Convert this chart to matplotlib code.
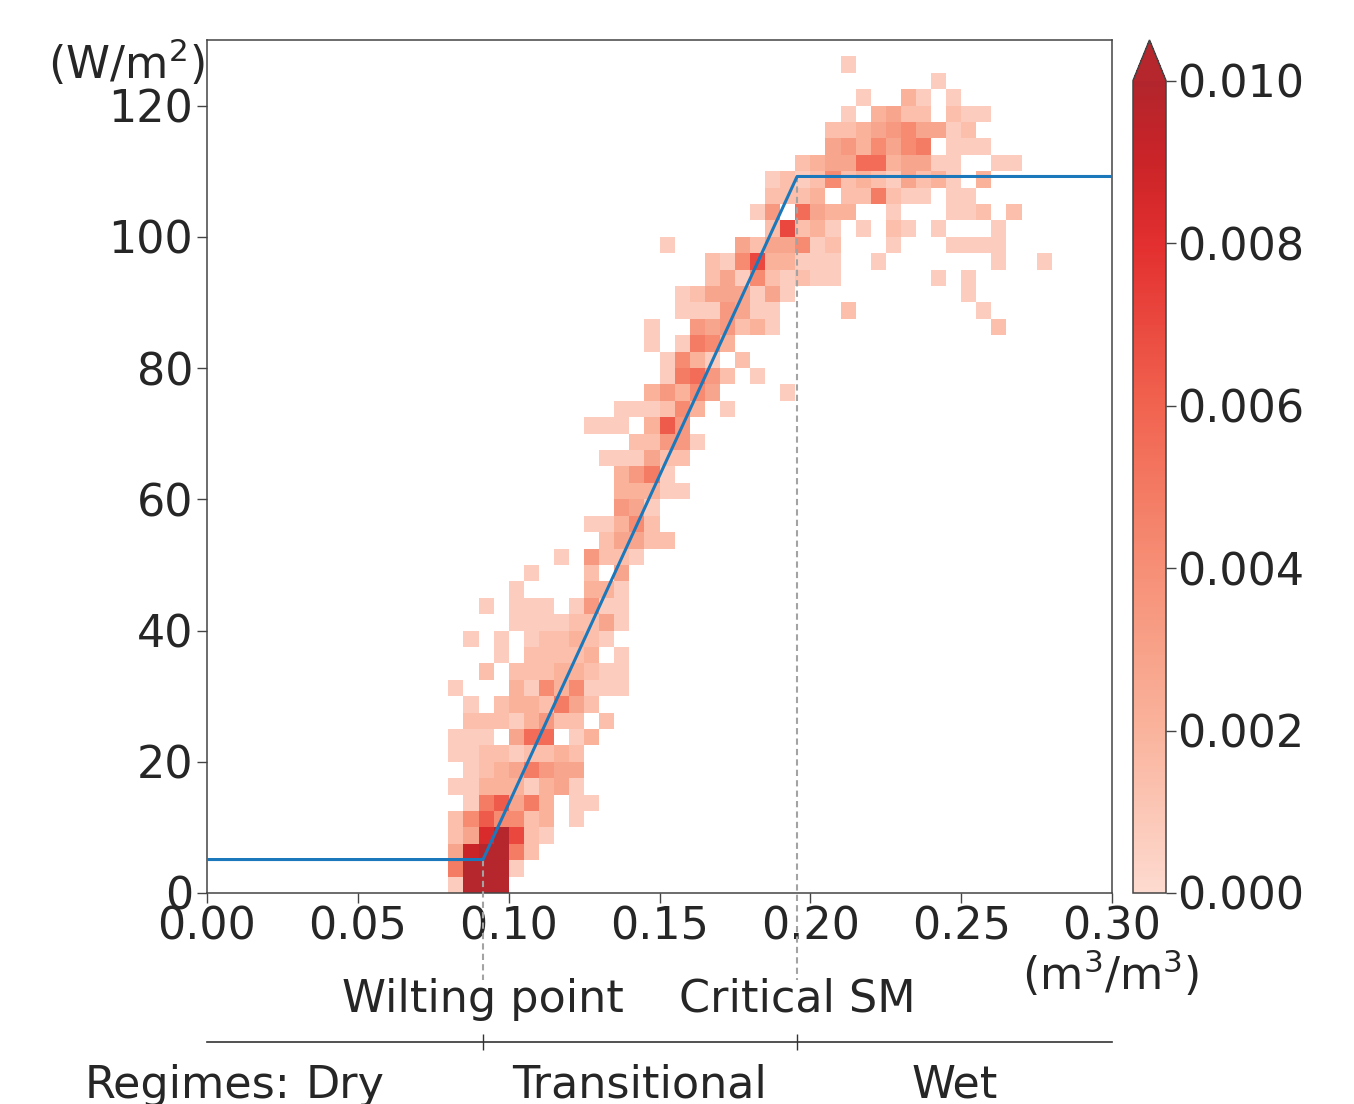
import matplotlib
matplotlib.use('Agg')
import matplotlib.pyplot as plt
import numpy as np
from matplotlib.colors import LinearSegmentedColormap, Normalize

W, H = 1354, 1104
plt.rcParams['font.family'] = 'DejaVu Sans'
plt.rcParams['text.color'] = '#262626'
plt.rcParams['mathtext.default'] = 'regular'

# histogram bins
x_edges = np.arange(0, 0.3001, 0.005)
y_edges = np.arange(0, 130.01, 2.5)
density_per_count = 0.0007

# counts read per row of bins: first column, then one count per column
row_start = [16, 16, 16, 16, 16, 17, 16, 17, 16, 16, 17, 17, 16, 18, 19, 17, 20, 18, 20, 21,
             23, 26, 25, 27, 27, 27, 26, 28, 25, 27, 29, 30, 30, 29, 29, 31, 31, 33, 33, 30,
             37, 36, 37, 37, 39, 41, 41, 42, 43, 48, 42]
row_counts = [
    [1, 22, 22, 22],
    [7, 22, 22, 22, 1],
    [4, 13, 22, 22, 7, 2],
    [2, 4, 12, 22, 10, 2, 1],
    [2, 6, 9, 6, 6, 2, 3, 0, 1],
    [1, 7, 9, 4, 7, 3, 0, 1, 1],
    [1, 1, 3, 3, 3, 1, 3, 4, 1],
    [1, 2, 3, 4, 7, 5, 4, 4],
    [1, 1, 2, 2, 1, 2, 2, 3, 2],
    [1, 1, 1, 0, 4, 8, 8, 0, 1, 3],
    [2, 2, 2, 1, 3, 5, 2, 2, 0, 2],
    [1, 0, 2, 3, 3, 2, 7, 4, 2],
    [1, 0, 0, 0, 3, 1, 6, 3, 6, 1, 1, 1],
    [2, 0, 2, 2, 2, 3, 3, 2, 1, 1],
    [1, 0, 2, 2, 2, 2, 3, 0, 1],
    [1, 0, 1, 0, 1, 2, 2, 3, 2, 1],
    [1, 1, 1, 1, 2, 2, 4, 1],
    [1, 0, 1, 1, 1, 0, 1, 5, 1, 1],
    [1, 0, 0, 0, 0, 3, 3, 1],
    [1, 0, 0, 0, 2, 0, 4],
    [1, 0, 5, 2, 2, 1],
    [2, 4, 4, 2, 2],
    [1, 1, 3, 6, 2],
    [5, 4, 1],
    [3, 3, 3, 1, 1],
    [3, 5, 7, 1],
    [1, 1, 1, 4, 2, 2],
    [2, 2, 5, 5, 1],
    [1, 1, 1, 0, 3, 9, 5],
    [1, 1, 1, 2, 6, 3, 0, 1],
    [3, 5, 3, 6, 4, 0, 0, 0, 0, 1],
    [1, 7, 8, 5, 2, 0, 1],
    [1, 6, 3, 1, 0, 2],
    [1, 0, 1, 7, 6, 3],
    [1, 0, 0, 5, 4, 5, 2, 3, 1, 0, 0, 0, 0, 0, 0, 0, 0, 0, 0, 0, 0, 0, 0, 2],
    [1, 1, 1, 5, 4, 1, 1, 0, 0, 0, 0, 2, 0, 0, 0, 0, 0, 0, 0, 0, 1],
    [1, 2, 4, 4, 4, 1, 4, 1, 0, 0, 0, 0, 0, 0, 0, 0, 0, 0, 0, 1],
    [2, 4, 1, 6, 2, 1, 2, 1, 1, 0, 0, 0, 0, 0, 0, 1, 0, 1],
    [2, 1, 6, 10, 3, 3, 1, 1, 1, 0, 0, 1, 0, 0, 0, 0, 0, 0, 0, 1, 0, 0, 1],
    [1, 0, 0, 0, 0, 4, 2, 4, 4, 6, 1, 2, 0, 0, 0, 1, 0, 0, 0, 1, 1, 1, 1],
    [2, 10, 2, 3, 1, 0, 1, 0, 2, 1, 0, 1, 0, 0, 0, 1],
    [1, 5, 0, 8, 4, 3, 3, 0, 0, 1, 0, 0, 0, 1, 1, 2, 0, 2],
    [2, 2, 2, 3, 0, 2, 2, 7, 2, 1, 1, 0, 1, 1],
    [1, 2, 1, 2, 6, 2, 3, 2, 1, 4, 2, 3, 1, 0, 3],
    [2, 3, 4, 4, 8, 8, 3, 4, 4, 1, 1, 0, 0, 1, 1],
    [4, 5, 3, 6, 4, 6, 7, 0, 1, 1, 1],
    [2, 2, 3, 4, 5, 6, 4, 4, 1, 2],
    [1, 0, 3, 4, 2, 2, 0, 2, 1, 1],
    [1, 0, 0, 3, 1, 0, 1],
    [1],
    [1],
]

# fitted regime curve
wilting_point = 0.0915
critical_sm = 0.1956
curve_x = [0.0, wilting_point, critical_sm, 0.3]
curve_y = [5.1, 5.1, 109.2, 109.2]

x_ticks = [0.0, 0.05, 0.1, 0.15, 0.2, 0.25, 0.3]
y_ticks = [0, 20, 40, 60, 80, 100, 120]
cbar_ticks = [0.0, 0.002, 0.004, 0.006, 0.008, 0.01]

grid = np.zeros((len(y_edges) - 1, len(x_edges) - 1))
for r, (start, counts) in enumerate(zip(row_start, row_counts)):
    grid[r, start:start + len(counts)] = counts
grid = np.ma.masked_equal(grid * density_per_count, 0)

cmap = LinearSegmentedColormap.from_list('soft_reds', [
    (0.0, '#fddacf'), (0.2, '#fab39c'), (0.4, '#f68f76'), (0.6, '#f1634f'),
    (0.8, '#e32f2f'), (0.9, '#cb2428'), (1.0, '#b2252c')], N=256)
cmap.set_over('#b5272d')
cmap.set_bad((1, 1, 1, 0))


def fig_box(left, top, right, bottom):
    return [left / W, 1 - bottom / H, (right - left) / W, (bottom - top) / H]


fig = plt.figure(figsize=(W / 100, H / 100), dpi=100)
ax = fig.add_axes(fig_box(207, 40, 1112, 893))
mesh = ax.pcolormesh(x_edges, y_edges, grid, cmap=cmap, norm=Normalize(0, 0.01))
ax.plot(curve_x, curve_y, color='#1a78bb', lw=2.2, zorder=4)

# dashed guides run from the curve down past the tick labels
guide_end = -87 / 853
trans = ax.get_xaxis_transform()
for sm, top_frac in [(wilting_point, 5.1 / 130), (critical_sm, 109.2 / 130)]:
    ax.plot([sm, sm], [top_frac, guide_end], transform=trans, clip_on=False,
            color='#a3a3a3', lw=1.5, ls=(0, (3, 2)), zorder=3)

ax.set_xlim(0, 0.3)
ax.set_ylim(0, 130)
ax.set_xticks(x_ticks)
ax.set_xticklabels(['%.2f' % v for v in x_ticks])
ax.set_yticks(y_ticks)
ax.tick_params(labelsize=32, length=7, width=1, color='#444444', labelcolor='#262626')
ax.tick_params(axis='x', pad=2)
ax.tick_params(axis='y', pad=3)
for s in ax.spines.values():
    s.set_color('#444444')
    s.set_linewidth(1.1)

# regime axis under the chart
regime_ax = ax.secondary_xaxis(-149 / 853)
regime_ax.set_xticks([wilting_point, critical_sm])
regime_ax.set_xticklabels(['', ''])
regime_ax.tick_params(direction='inout', length=11, width=1, color='#333333')
regime_ax.spines['bottom'].set_color('#333333')
regime_ax.spines['bottom'].set_linewidth(1.2)

cax = fig.add_axes(fig_box(1133, 40, 1166, 893))
cbar = fig.colorbar(mesh, cax=cax, extend='max', extendfrac=0.05)
cbar.set_ticks(cbar_ticks)
cbar.set_ticklabels(['%.3f' % v for v in cbar_ticks])
cbar.ax.tick_params(labelsize=32, length=7, width=1, color='#444444', labelcolor='#262626', pad=1)
cbar.outline.set_edgecolor('#444444')
cbar.outline.set_linewidth(1.1)


def label(x, y, s, ha='center'):
    fig.text(x / W, 1 - y / H, s, ha=ha, va='baseline', fontsize=32, color='#262626')


label(205, 79, r'(W/m$^2$)', ha='right')
label(1111, 990, r'(m$^3$/m$^3$)')
label(483, 1012, 'Wilting point')
label(797, 1012, 'Critical SM')
label(85, 1098, 'Regimes:', ha='left')
label(345, 1098, 'Dry')
label(640, 1098, 'Transitional')
label(955, 1098, 'Wet')

fig.savefig('out.png', dpi=100)
